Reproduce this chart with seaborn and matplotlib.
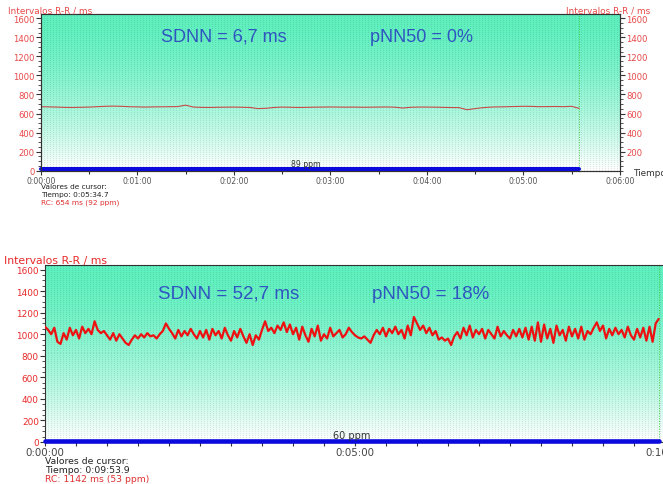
import numpy as np
import pandas as pd
import matplotlib
matplotlib.use("Agg")
import matplotlib.pyplot as plt
import seaborn as sns
from matplotlib.ticker import MultipleLocator, FuncFormatter

# ---------------- data ----------------
# Top recording: R-R intervals (ms), one reading every 5 s, last one at the cursor (334.7 s)
top_rr = [672, 670, 668, 665, 664, 666,
          668, 672, 676, 678, 676, 672,
          670, 668, 670, 671, 672, 673,
          688, 668, 665, 664, 666, 667,
          668, 666, 664, 652, 655, 664,
          668, 666, 664, 665, 667, 668,
          669, 668, 667, 668, 666, 667,
          668, 669, 667, 658, 666, 668,
          668, 667, 665, 663, 662, 640,
          652, 662, 668, 670, 672, 674,
          676, 675, 672, 673, 674, 672, 676,
          654]
top_step = 5
top_end = 334.7
top_ppm = 89
top_cursor = ["Valores de cursor:", "Tiempo: 0:05:34.7", "RC: 654 ms (92 ppm)"]
top_stats = ["SDNN = 6,7 ms", "pNN50 = 0%"]

# Bottom recording: R-R intervals (ms), one reading every 3 s, last one at the cursor (593.9 s)
bot_rr = [1070, 1040, 1000, 1060, 930, 910, 1010, 950, 1060, 990,
          1040, 960, 1070, 1010, 1050, 1000, 1120, 1040, 1010, 1030,
          990, 950, 1010, 940, 1000, 960, 920, 900, 950, 990,
          960, 1000, 970, 1010, 980, 990, 960, 1000, 1030, 1100,
          1050, 1010, 960, 1040, 980, 1030, 990, 1050, 1000, 960,
          1030, 970, 1040, 950, 1050, 990, 1030, 960, 1060, 990,
          940, 1030, 970, 1050, 980, 920, 1000, 900, 990, 950,
          1040, 1120, 1030, 1060, 1010, 1080, 1040, 1110, 1020, 1090,
          1000, 1060, 950, 1070, 990, 930, 1050, 980, 1080, 940,
          1000, 960, 1060, 980, 1010, 1040, 970, 1000, 1060, 1020,
          990, 970, 960, 980, 950, 920, 990, 1040, 1000, 1060,
          980, 1050, 1010, 1070, 1000, 1040, 960, 1080, 990, 1160,
          1100, 1040, 1080, 1010, 1060, 990, 1030, 950, 970, 940,
          960, 900, 980, 1020, 960, 1060, 990, 1080, 970, 1040,
          1000, 1050, 960, 1040, 1000, 960, 1070, 980, 1030, 990,
          960, 1040, 980, 1050, 970, 1060, 950, 1070, 940, 1110,
          930, 1090, 960, 1050, 920, 1080, 990, 1040, 940, 1070,
          980, 1050, 960, 1070, 950, 1030, 1000, 1060, 1110, 1030,
          1080, 960, 1050, 990, 1060, 1000, 1040, 970, 1070, 990,
          950, 1050, 970, 1060, 940, 1070, 930, 1100, 1142]
bot_step = 3
bot_end = 593.9
bot_ppm = 60
bot_cursor = ["Valores de cursor:", "Tiempo: 0:09:53.9", "RC: 1142 ms (53 ppm)"]
bot_stats = ["SDNN = 52,7 ms", "pNN50 = 18%"]

y_label = "Intervalos R-R / ms"
x_label = "Tiempo"

# ---------------- helpers ----------------
W, H = 663, 485


def times_for(values, step, end):
    t = list(np.arange(len(values) - 1) * step)
    t.append(end)
    return t


def fig_rect(x0, y0, x1, y1):
    return [x0 / W, 1 - y1 / H, (x1 - x0) / W, (y1 - y0) / H]


def fx(x):
    return x / W


def fy(y):
    return 1 - y / H


def hms(v, pos=None):
    v = int(round(v))
    return f"{v // 3600}:{(v % 3600) // 60:02d}:{v % 60:02d}"


def background(ax, xmax, ymax, wpx, hpx):
    t = np.linspace(0, 1, hpx)[:, None]
    top = np.array([94, 240, 190]) / 255.0
    w = t ** 1.6
    base = top * (1 - w) + w
    img = np.repeat(base[:, None, :], wpx, axis=1)
    cols = (np.arange(wpx) % 3 == 0)
    rows = (np.arange(hpx) % 2 == 0)
    mask = rows[:, None] & cols[None, :]
    img[mask] *= 0.9
    ax.imshow(img, extent=[0, xmax, 0, ymax], aspect="auto", zorder=0,
              interpolation="nearest", origin="upper")


sns.set_theme(style="white")
plt.rcParams["font.family"] = ["DejaVu Sans"]

YMAX = 1645
RED_LBL = "#e84848"
STAT_BLUE = "#2f55c0"

fig = plt.figure(figsize=(W / 100, H / 100), dpi=100)
fig.patch.set_facecolor("white")

# ================= TOP PANEL =================
ax1 = fig.add_axes(fig_rect(40.7, 15, 620, 171.7))
background(ax1, 360, YMAX, 580, 157)
top_df = pd.DataFrame({"t": times_for(top_rr, top_step, top_end), "rr": top_rr})
sns.lineplot(data=top_df, x="t", y="rr", ax=ax1, color="#c84848", lw=0.8,
             estimator=None, sort=False, zorder=3)
ppm_df1 = pd.DataFrame({"t": [0, top_end], "v": [18, 18]})
sns.lineplot(data=ppm_df1, x="t", y="v", ax=ax1, color="#0a0adc", lw=2.9,
             estimator=None, sort=False, zorder=4, clip_on=False)
ax1.axvline(top_end, color="#40c840", ls=":", lw=0.7, zorder=2)
ax1.text(165, 80, f"{top_ppm} ppm", ha="center", va="center", fontsize=5.6,
         color="#333333", zorder=5)
ax1.set_xlim(0, 360)
ax1.set_ylim(0, YMAX)
ax1.set_xlabel("")
ax1.set_ylabel("")
ax1.xaxis.set_major_locator(MultipleLocator(60))
ax1.xaxis.set_minor_locator(MultipleLocator(30))
ax1.xaxis.set_major_formatter(FuncFormatter(hms))
ax1.yaxis.set_major_locator(MultipleLocator(200))
ax1.yaxis.set_minor_locator(MultipleLocator(50))
ax1.tick_params(axis="x", which="both", direction="out", bottom=True, length=3,
                width=0.8, color="#333333", labelsize=5.6, labelcolor="#555555", pad=1)
ax1.tick_params(axis="x", which="minor", length=2.5)
ax1.tick_params(axis="y", which="major", direction="out", left=True, length=3.5,
                width=0.8, color="#333333", labelsize=6.1, labelcolor=RED_LBL, pad=1)
ax1.tick_params(axis="y", which="minor", direction="out", left=True, length=2,
                width=0.6, color="#333333")
for s in ax1.spines.values():
    s.set_color("#333333")
    s.set_linewidth(0.8)

ax1r = ax1.twinx()
ax1r.set_ylim(0, YMAX)
ax1r.set_yticks([200, 400, 600, 800, 1000, 1200, 1400, 1600])
ax1r.yaxis.set_minor_locator(MultipleLocator(50))
ax1r.tick_params(axis="y", which="major", direction="out", right=True, length=3.5,
                 width=0.8, color="#333333", labelsize=6.1, labelcolor=RED_LBL, pad=1)
ax1r.tick_params(axis="y", which="minor", direction="out", right=True, length=2,
                 width=0.6, color="#333333")
ax1r.grid(False)
for s in ax1r.spines.values():
    s.set_color("#333333")
    s.set_linewidth(0.8)

fig.text(fx(8), fy(10.7), y_label, fontsize=6.4, color=RED_LBL, va="center", ha="left")
fig.text(fx(566), fy(10.7), y_label, fontsize=6.4, color=RED_LBL, va="center", ha="left")
fig.text(fx(633), fy(174), x_label, fontsize=6.4, color="#333333", va="center", ha="left")
fig.text(fx(161), fy(37), top_stats[0], fontsize=13, family="Liberation Sans",
         color=STAT_BLUE, va="center", ha="left")
fig.text(fx(370), fy(37), top_stats[1], fontsize=13, family="Liberation Sans",
         color=STAT_BLUE, va="center", ha="left")
for i, (line, col) in enumerate(zip(top_cursor, ["#222222", "#222222", "#e03030"])):
    fig.text(fx(41), fy(187.5 + 7.8 * i), line, fontsize=5.3, color=col,
             va="center", ha="left")

# ================= BOTTOM PANEL =================
ax2 = fig.add_axes(fig_rect(45, 265.7, 665, 443))
background(ax2, 600, YMAX, 620, 177)
bot_df = pd.DataFrame({"t": times_for(bot_rr, bot_step, bot_end), "rr": bot_rr})
sns.lineplot(data=bot_df, x="t", y="rr", ax=ax2, color="#ee1111", lw=1.6,
             estimator=None, sort=False, zorder=3)
ppm_df2 = pd.DataFrame({"t": [0, bot_end], "v": [12, 12]})
sns.lineplot(data=ppm_df2, x="t", y="v", ax=ax2, color="#0a0adc", lw=3.3,
             estimator=None, sort=False, zorder=4, clip_on=False)
ax2.axvline(bot_end, color="#40c840", ls=":", lw=0.7, zorder=2)
ax2.text(297, 65, f"{bot_ppm} ppm", ha="center", va="center", fontsize=7,
         color="#333333", zorder=5)
ax2.set_xlim(0, 600)
ax2.set_ylim(0, YMAX)
ax2.set_xlabel("")
ax2.set_ylabel("")
ax2.xaxis.set_major_locator(MultipleLocator(300))
ax2.xaxis.set_minor_locator(MultipleLocator(30))
ax2.xaxis.set_major_formatter(FuncFormatter(hms))
ax2.tick_params(axis="x", which="both", direction="out", bottom=True, length=3,
                width=0.8, color="#333333", labelsize=7.4, labelcolor="#444444", pad=0.5)
ax2.tick_params(axis="x", which="minor", length=3)
ax2.yaxis.set_major_locator(MultipleLocator(200))
ax2.yaxis.set_minor_locator(MultipleLocator(50))
ax2.tick_params(axis="y", which="major", direction="out", left=True, length=3.5,
                width=0.8, color="#333333", labelsize=6.4, labelcolor="#e82828", pad=1)
ax2.tick_params(axis="y", which="minor", direction="out", left=True, length=2,
                width=0.6, color="#333333")
for s in ax2.spines.values():
    s.set_color("#333333")
    s.set_linewidth(0.8)

fig.text(fx(4), fy(260.7), y_label, fontsize=7.8, color="#e82828", va="center", ha="left")
fig.text(fx(158), fy(294.5), bot_stats[0], fontsize=13.5, family="Liberation Sans",
         color=STAT_BLUE, va="center", ha="left")
fig.text(fx(372), fy(295), bot_stats[1], fontsize=13.5, family="Liberation Sans",
         color=STAT_BLUE, va="center", ha="left")
for i, (line, col) in enumerate(zip(bot_cursor, ["#222222", "#222222", "#e03030"])):
    fig.text(fx(45), fy(462 + 9.0 * i), line, fontsize=6.7, color=col,
             va="center", ha="left")

fig.savefig("out.png", dpi=100, facecolor="white")
